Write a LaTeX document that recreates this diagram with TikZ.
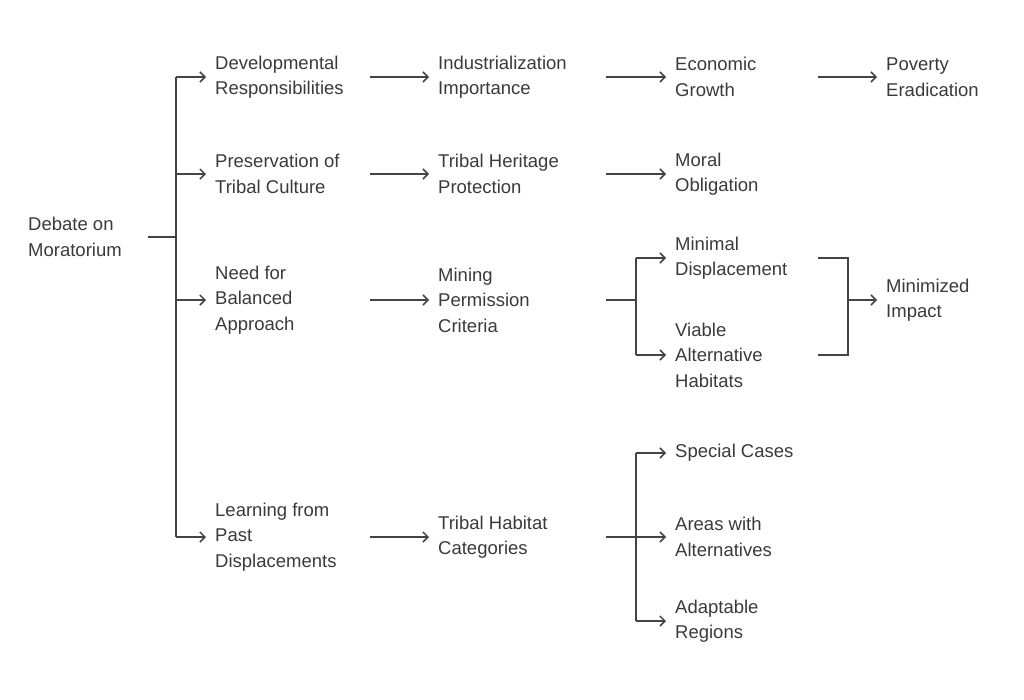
\documentclass[tikz,border=0pt]{standalone}
\usepackage{fontspec}
\setmainfont{Liberation Sans}
\usetikzlibrary{arrows.meta}
\definecolor{ln}{HTML}{444444}
\definecolor{tx}{HTML}{3A3A3A}
\begin{document}
\begin{tikzpicture}[x=1pt,y=-1pt,
  lbl/.style={anchor=west,inner sep=0pt,align=left,text=tx,font=\fontsize{18.5}{25.5}\selectfont},
  ln/.style={draw=ln,line width=1.5pt},
  arr/.style={ln,-{Straight Barb[length=5pt,width=10pt]}}]
\useasboundingbox (0,0) rectangle (1024,699);
\node[lbl] (root) at (28,237) {Debate on\\Moratorium};
\node[lbl] (a1) at (215,77) {Developmental\\Responsibilities};
\node[lbl] (a2) at (215,174) {Preservation of\\Tribal Culture};
\node[lbl] (a3) at (215,300) {Need for\\Balanced\\Approach};
\node[lbl] (a4) at (215,537) {Learning from\\Past\\Displacements};
\node[lbl] (b1) at (438,77) {Industrialization\\Importance};
\node[lbl] (b2) at (438,174) {Tribal Heritage\\Protection};
\node[lbl] (b3) at (438,300) {Mining\\Permission\\Criteria};
\node[lbl] (b4) at (438,537) {Tribal Habitat\\Categories};
\node[lbl] (c1) at (675,77) {Economic\\Growth};
\node[lbl] (c2) at (675,174) {Moral\\Obligation};
\node[lbl] (c3) at (675,258) {Minimal\\Displacement};
\node[lbl] (c4) at (675,355) {Viable\\Alternative\\Habitats};
\node[lbl] (c5) at (675,453) {Special Cases};
\node[lbl] (c6) at (675,537) {Areas with\\Alternatives};
\node[lbl] (c7) at (675,621) {Adaptable\\Regions};
\node[lbl] (d1) at (886,77) {Poverty\\Eradication};
\node[lbl] (d2) at (886,300) {Minimized\\Impact};
\coordinate (j0) at (176,237);
\coordinate (j1) at (636,300);
\coordinate (j2) at (636,537);
\coordinate (j3) at (848,300);
% root branch
\draw[ln] (148,237) -- (j0);
\draw[ln] (176,77) -- (176,537);
\foreach \n in {a1,a2,a3,a4}
  \draw[arr] (176,0 |- \n.west) -- ([xshift=-9pt]\n.west);
% level 2
\foreach \n in {b1,b2,b3,b4}
  \draw[arr] (370,0 |- \n.west) -- ([xshift=-9pt]\n.west);
\draw[arr] (606,0 |- c1.west) -- ([xshift=-9pt]c1.west);
\draw[arr] (606,0 |- c2.west) -- ([xshift=-9pt]c2.west);
\draw[arr] (818,0 |- d1.west) -- ([xshift=-9pt]d1.west);
% mining split
\draw[ln] (606,300) -- (j1);
\draw[ln] (636,258) -- (636,355);
\draw[arr] (636,258) -- ([xshift=-9pt]c3.west);
\draw[arr] (636,355) -- ([xshift=-9pt]c4.west);
% merge
\draw[ln] (818,258) -- (848,258) -- (848,355) -- (818,355);
\draw[arr] (j3) -- ([xshift=-9pt]d2.west);
% habitat split
\draw[ln] (606,537) -- (j2);
\draw[ln] (636,453) -- (636,621);
\draw[arr] (636,453) -- ([xshift=-9pt]c5.west);
\draw[arr] (636,537) -- ([xshift=-9pt]c6.west);
\draw[arr] (636,621) -- ([xshift=-9pt]c7.west);
\end{tikzpicture}
\end{document}
